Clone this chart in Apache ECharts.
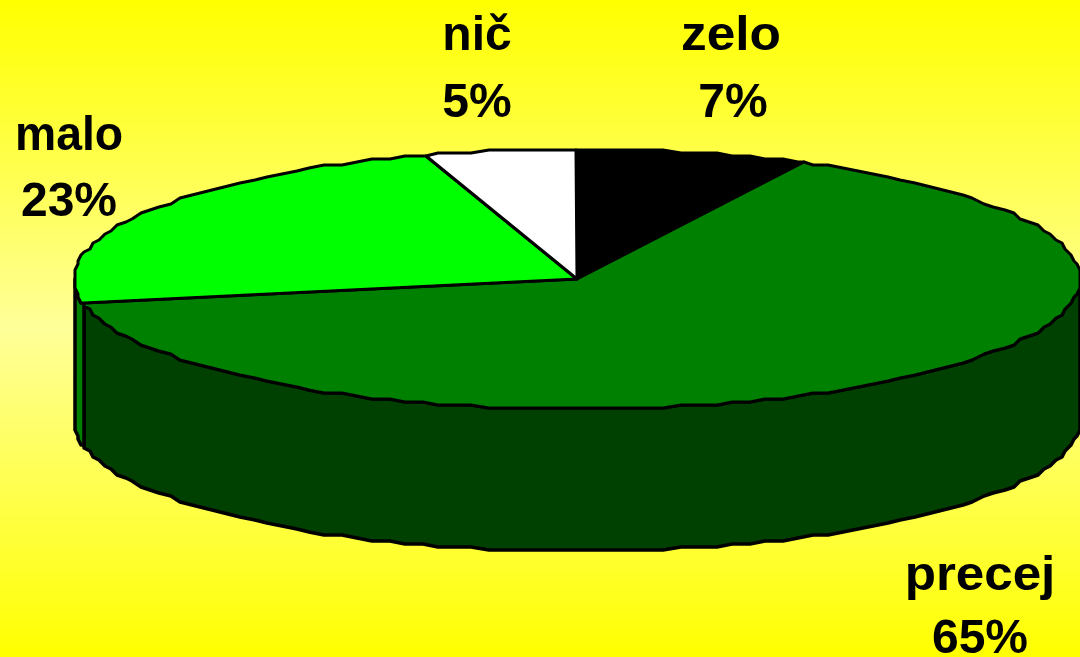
<!DOCTYPE html>
<html><head><meta charset="utf-8">
<style>html,body{margin:0;padding:0;background:#ffff99}#c{width:1080px;height:657px}</style>
<script src="https://cdn.jsdelivr.net/npm/echarts@6/dist/echarts.min.js"></script>
</head><body><div id="c"></div>
<script>
const categories = ['zelo', 'precej', 'malo', 'nič'];
const values = [7.4, 64.6, 23.1, 4.9];
const tickLabels = ['7%', '65%', '23%', '5%'];

const topColors = ['#000000', '#008000', '#00ff00', '#ffffff'];
const wallColors = ['#000000', '#004000', '#008000', '#808080'];
const labelAnchors = [[731, 37, 733, 104], [980, 577, 980, 640], [69, 137, 69, 203], [477, 37, 477, 104]];
const nameScaleX = [1.07, 1.065, 0.965, 1];
const G = { cx: 577, cy: 279, rx: 503, ry: 130, depth: 142, step: 2, snapX: 3, snapY: 3 };

const total = values.reduce((a, b) => a + b, 0);
const starts = [];
values.reduce((acc, v, i) => { starts[i] = acc; return acc + v; }, 0);

function pt(deg, dy) {
  const t = deg * Math.PI / 180;
  const x = G.cx + G.rx * Math.sin(t), y = G.cy - G.ry * Math.cos(t);
  return [Math.round(x / G.snapX) * G.snapX, Math.round(y / G.snapY) * G.snapY + (dy || 0)];
}
// Angles lie on one shared grid, so the wall's upper edge coincides with the top face's rim.
function arc(a0, a1, dy) {
  const lo = Math.min(a0, a1), hi = Math.max(a0, a1);
  const angles = [lo];
  for (let k = Math.floor(lo / G.step) + 1; k * G.step < hi; k++) angles.push(k * G.step);
  angles.push(hi);
  if (a0 > a1) angles.reverse();
  return angles.map(a => pt(a, dy));
}
function range(idx) {
  const a0 = starts[idx] / total * 360;
  return [a0, a0 + values[idx] / total * 360];
}
const seriesData = values.map((v, i) => ({ name: categories[i], value: [i, v] }));

function renderWall(params, api) {
  const i = api.value(0);
  const [a0, a1] = range(i);
  const s = Math.max(a0, 90), e = Math.min(a1, 270);
  if (e <= s) return { type: 'group', children: [] };
  const pts = arc(s, e, 0).concat(arc(e, s, G.depth));
  return { type: 'polygon', shape: { points: pts },
    style: { fill: wallColors[i], stroke: '#000', lineWidth: 3.5, lineJoin: 'round' } };
}
function renderTop(params, api) {
  const i = api.value(0);
  const [a0, a1] = range(i);
  const pts = [[G.cx, G.cy]].concat(arc(a0, a1, 0));
  return { type: 'polygon', shape: { points: pts },
    style: { fill: topColors[i], stroke: '#000', lineWidth: 3, lineJoin: 'round' } };
}
function renderLabel(params, api) {
  const i = api.value(0);
  const a = labelAnchors[i];
  const font = 'bold 48px "Liberation Sans", Arial, sans-serif';
  const t = (text, x, y, sx) => ({ type: 'text', x, y, scaleX: sx, style: { text, x: 0, y: 0, font, fill: '#000', align: 'center', verticalAlign: 'middle' } });
  return { type: 'group', children: [t(categories[i], a[0], a[1], nameScaleX[i]), t(tickLabels[i], a[2], a[3], 1)] };
}
const chart = echarts.init(document.getElementById('c'), null, { renderer: 'canvas' });
chart.setOption({
  animation: false,
  backgroundColor: { type: 'linear', x: 0, y: 0, x2: 0, y2: 1, colorStops: [
    { offset: 0, color: '#ffff00' }, { offset: 0.5, color: '#ffff99' }, { offset: 1, color: '#ffff00' }] },
  series: [
    { type: 'custom', coordinateSystem: 'none', renderItem: renderWall, data: seriesData, silent: true, z: 1 },
    { type: 'custom', coordinateSystem: 'none', renderItem: renderTop, data: seriesData, silent: true, z: 2 },
    { type: 'custom', coordinateSystem: 'none', renderItem: renderLabel, data: seriesData, silent: true, z: 3 }
  ]
});
</script></body></html>
